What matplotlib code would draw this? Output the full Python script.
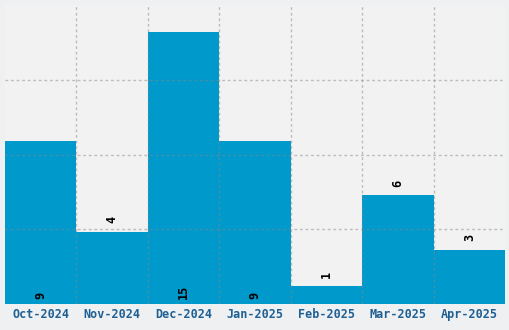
import matplotlib.pyplot as plt
import numpy as np

months = ["Oct-2024", "Nov-2024", "Dec-2024", "Jan-2025", "Feb-2025", "Mar-2025", "Apr-2025"]
counts = [9, 4, 15, 9, 1, 6, 3]


def main():
    fig = plt.figure(figsize=(5.1, 3.3), dpi=100, facecolor="#eef0f1")
    ax = fig.add_axes([5 / 510, 26 / 330, 500 / 510, 299 / 330])
    ax.set_facecolor("#f2f2f2")

    x = np.arange(len(months))
    ax.bar(x, counts, width=1.0, color="#0099cc", zorder=2)

    ymax = 16.5
    ax.set_xlim(-0.5, len(months) - 0.5)
    ax.set_ylim(0, ymax)

    # grid on category edges and quarter heights, drawn over the bars
    for b in x[1:] - 0.5:
        ax.axvline(b, color="#888888", alpha=0.5, linestyle=(0, (2, 2)), linewidth=1, zorder=3)
    for h in np.linspace(0, ymax, 5)[1:-1]:
        ax.axhline(h, color="#888888", alpha=0.5, linestyle=(0, (2, 2)), linewidth=1, zorder=3)

    for xi, v in zip(x, counts):
        if v >= 9:
            ax.text(xi, 0.25, str(v), rotation=90, ha="center", va="bottom",
                    fontsize=8.5, fontweight="bold", family="DejaVu Sans Mono", zorder=4)
        else:
            ax.text(xi, v + 0.45, str(v), rotation=90, ha="center", va="bottom",
                    fontsize=8.5, fontweight="bold", family="DejaVu Sans Mono", zorder=4)

    ax.set_xticks(x)
    ax.set_xticklabels(months, fontsize=8.5, fontweight="bold", family="DejaVu Sans Mono",
                       color="#1e5f94")
    ax.set_yticks([])
    ax.tick_params(axis="x", length=0, pad=3)
    for s in ax.spines.values():
        s.set_visible(False)

    fig.savefig("out.png", dpi=100, facecolor=fig.get_facecolor())


if __name__ == '__main__':
    main()
